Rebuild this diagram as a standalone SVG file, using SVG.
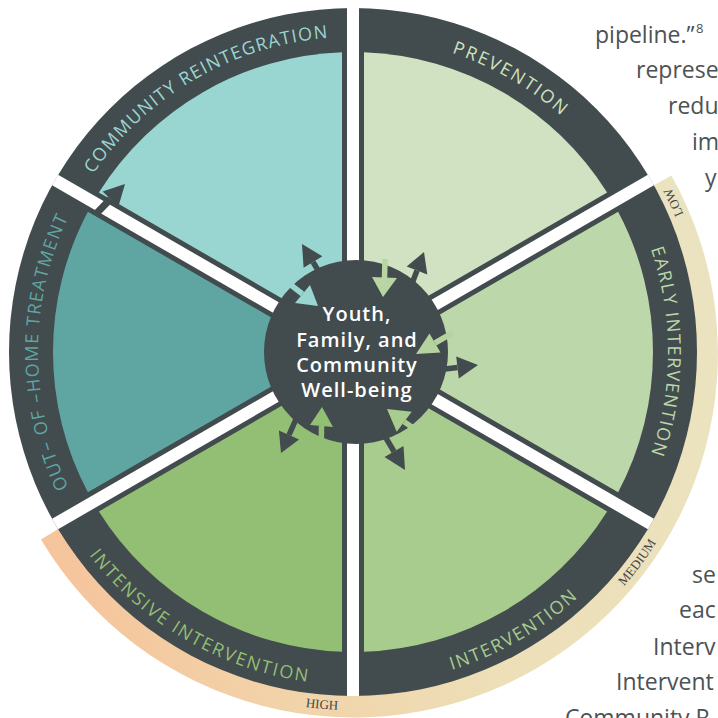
<svg xmlns="http://www.w3.org/2000/svg" width="718" height="718" viewBox="0 0 718 718">
<style>
.bg{font-family:"Open Sans","Liberation Sans",sans-serif;font-size:23px;fill:#4c5254}
.dark{fill:#424b4e}
.lbl{font-family:"Open Sans","Liberation Sans",sans-serif;font-size:18px;font-weight:500}
.lvl{font-family:"Liberation Serif",serif;font-size:13px;fill:#3f4749}
.hubt{font-family:"Open Sans","Liberation Sans",sans-serif;font-size:20px;font-weight:600;fill:#ffffff;text-anchor:middle;letter-spacing:1px}
.gap{stroke:#ffffff;stroke-width:12;stroke-linecap:butt}
.sd{stroke:#424b4e;stroke-width:5.5}
.hd{fill:#424b4e}
</style>
<defs>
<linearGradient id="lvlg" gradientUnits="userSpaceOnUse" x1="700" y1="250" x2="40" y2="560">
<stop offset="0" stop-color="#ebe3c0"/>
<stop offset="0.5" stop-color="#eddfb8"/>
<stop offset="0.8" stop-color="#f2d2a8"/>
<stop offset="1" stop-color="#f6c39b"/>
</linearGradient>
<path id="cw240" d="M38,352 A315,315 0 0 1 510.5,79.2"/>
<path id="cwm60" d="M195.5,79.2 A315,315 0 0 1 668,352"/>
<path id="cw0" d="M510.5,79.2 A315,315 0 0 1 510.5,624.8"/>
<path id="cw180" d="M195.5,624.8 A315,315 0 0 1 195.5,79.2"/>
<path id="ccw60" d="M186.5,640.4 A333,333 0 0 0 686,352"/>
<path id="ccw120" d="M20,352 A333,333 0 0 0 519.5,640.4"/>
<path id="lvlpath" d="M16.6,474.4 A358,358 0 1 0 627.2,121.9"/>
</defs>

<g id="page-text" class="bg">
<text x="595" y="43">pipeline.”</text>
<text x="696" y="33" style="font-size:13px">8</text>
<text x="636" y="78">represe</text>
<text x="668" y="114">redu</text>
<text x="692" y="150">im</text>
<text x="705" y="186">y</text>
<text x="692" y="583">se</text>
<text x="679" y="618">eac</text>
<text x="653" y="655">Interv</text>
<text x="616" y="690">Intervent</text>
<text x="565" y="726">Community R</text>
</g>

<g id="risk-level">
<path d="M671.4,175.5 A364,364 0 0 1 41,539.5 L59,528.6 A343,343 0 0 0 653,185.7 Z" fill="url(#lvlg)"/>
<text class="lvl"><textPath href="#lvlpath" startOffset="406" text-anchor="middle">HIGH</textPath></text>
<text class="lvl"><textPath href="#lvlpath" startOffset="772" text-anchor="middle">MEDIUM</textPath></text>
<text class="lvl"><textPath href="#lvlpath" startOffset="1156" text-anchor="middle">LOW</textPath></text>
</g>

<circle class="dark" cx="353" cy="352" r="344"/>

<g id="prevention">
<path d="M364,332.95 L364,52.2 A300,300 0 0 1 607.13,192.57 Z" fill="#d1e2c2"/>
<text class="lbl" fill="#cfe1bf" letter-spacing="2"><textPath href="#cwm60" startOffset="50%" text-anchor="middle">PREVENTION</textPath></text>
</g>
<g id="early-intervention">
<path d="M375,352 L618.13,211.63 A300,300 0 0 1 618.13,492.37 Z" fill="#bcd7a9"/>
<text class="lbl" fill="#bcd7a9" letter-spacing="1.5"><textPath href="#cw0" startOffset="50%" text-anchor="middle">EARLY INTERVENTION</textPath></text>
</g>
<g id="intervention">
<path d="M364,371.05 L607.13,511.43 A300,300 0 0 1 364,651.8 Z" fill="#a8cc8e"/>
<text class="lbl" fill="#a8cc8e" letter-spacing="1.8"><textPath href="#ccw60" startOffset="50%" text-anchor="middle">INTERVENTION</textPath></text>
</g>
<g id="intensive-intervention">
<path d="M342,371.05 L342,651.8 A300,300 0 0 1 98.87,511.43 Z" fill="#93bf74"/>
<text class="lbl" fill="#93bf74" letter-spacing="1.9"><textPath href="#ccw120" startOffset="50%" text-anchor="middle">INTENSIVE INTERVENTION</textPath></text>
</g>
<g id="out-of-home-treatment">
<path d="M331,352 L87.87,492.37 A300,300 0 0 1 87.87,211.63 Z" fill="#5fa6a3"/>
<text class="lbl" fill="#5fa6a3" letter-spacing="1.4"><textPath href="#cw180" startOffset="50%" text-anchor="middle">OUT– OF –HOME TREATMENT</textPath></text>
</g>
<g id="community-reintegration">
<path d="M342,332.95 L98.87,192.57 A300,300 0 0 1 342,52.2 Z" fill="#9ad6d1"/>
<text class="lbl" fill="#9ad6d1" letter-spacing="1.3"><textPath href="#cw240" startOffset="50%" text-anchor="middle">COMMUNITY REINTEGRATION</textPath></text>
</g>

<g id="gaps" class="gap">
<line x1="353" y1="352" x2="353" y2="8"/>
<line x1="353" y1="352" x2="650.9" y2="180"/>
<line x1="353" y1="352" x2="650.9" y2="524"/>
<line x1="353" y1="352" x2="353" y2="696"/>
<line x1="353" y1="352" x2="55.1" y2="524"/>
<line x1="353" y1="352" x2="55.1" y2="180"/>
</g>

<g id="hub">
<circle class="dark" cx="356" cy="352" r="92"/>
</g>

<g id="connectors">
<line class="sd" x1="95.2" y1="214.8" x2="110.5" y2="199" style="stroke-width:7"/>
<polygon class="hd" points="125,184 118.4,206.6 102.6,191.4"/>

<line class="sd" x1="324.4" y1="280.7" x2="313" y2="262"/>
<polygon class="hd" points="302,244 322.4,256.3 303.6,267.7"/>
<line x1="286.7" y1="281.8" x2="302.5" y2="294" stroke="#9ad6d1" stroke-width="5.5"/>
<polygon points="318,306 295,303 310,285" fill="#9ad6d1"/>

<line x1="385" y1="259" x2="384.5" y2="278" stroke="#b9d5a3" stroke-width="5.5"/>
<polygon points="383,297 372,277 397,278" fill="#b9d5a3"/>
<line class="sd" x1="410.6" y1="287.3" x2="417" y2="270.5"/>
<polygon class="hd" points="424,252 427.3,274.4 406.7,266.6"/>

<line x1="452.3" y1="333" x2="435" y2="343" stroke="#b5d39f" stroke-width="5.5"/>
<polygon points="416,354 440.5,352.5 429.5,333.5" fill="#b5d39f"/>
<line class="sd" x1="441" y1="369.5" x2="457.5" y2="367.5"/>
<polygon class="hd" points="478,365 458.8,378.4 456.2,356.6"/>

<line x1="420.5" y1="433.3" x2="404.2" y2="421.7" stroke="#a8cc8e" stroke-width="5.5"/>
<polygon points="387,409 411.7,411.7 396.7,431.7" fill="#a8cc8e"/>
<line class="sd" x1="383.8" y1="434.3" x2="394" y2="451.5"/>
<polygon class="hd" points="405,470 403.5,445.9 384.5,457.1"/>

<line class="sd" x1="297.1" y1="416.7" x2="289" y2="435"/>
<polygon class="hd" points="281,453 299.1,439.5 278.9,430.5"/>
<line x1="321.3" y1="446" x2="321.5" y2="426" stroke="#93bf74" stroke-width="5.5"/>
<polygon points="322,407 310,425 333,427" fill="#93bf74"/>
</g>

<g id="hub-label">
<text class="hubt" x="357" y="321">Youth,</text>
<text class="hubt" x="357" y="347">Family, and</text>
<text class="hubt" x="357" y="372">Community</text>
<text class="hubt" x="357" y="397">Well-being</text>
</g>
</svg>
